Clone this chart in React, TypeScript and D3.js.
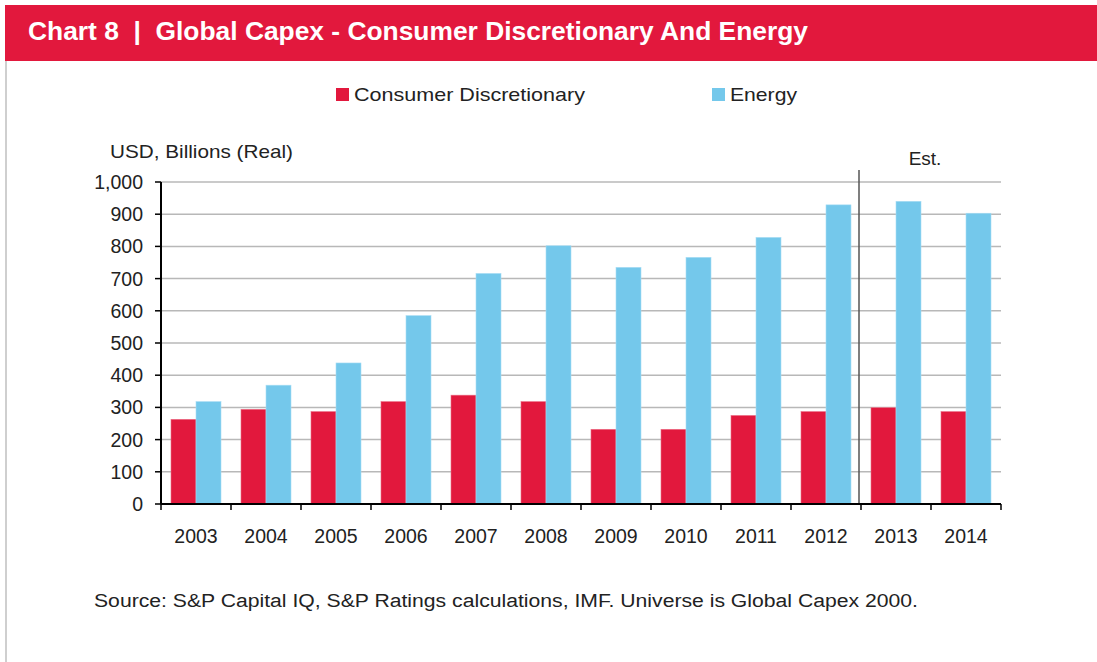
import React from 'react';
import * as d3 from 'd3';

const years = ['2003','2004','2005','2006','2007','2008','2009','2010','2011','2012','2013','2014'];
const consumerDiscretionary = [263, 294, 287, 318, 338, 318, 232, 232, 275, 287, 299, 287];
const energy = [318, 369, 438, 585, 716, 802, 735, 766, 828, 929, 940, 903];
const seriesNames = ['Consumer Discretionary', 'Energy'];
const yTicks = [0, 100, 200, 300, 400, 500, 600, 700, 800, 900, 1000];
const estimateStart = '2013';

const RED = '#E2183D';
const BLUE = '#74C8EB';
const FONT = '"Liberation Sans", Arial, sans-serif';

export default function App() {
  const W = 1097, H = 662;
  const left = 161, right = 1001, top = 182, bottom = 504;

  const x = d3.scaleBand<string>().domain(years).range([left, right]).paddingInner(0.2857).paddingOuter(0.14285);
  const xs = d3.scaleBand<string>().domain(seriesNames).range([0, x.bandwidth()]);
  const y = d3.scaleLinear().domain([0, 1000]).range([bottom, top]);
  const fmt = d3.format(',');
  const step = x.step();
  const colors = [RED, BLUE];
  const data = [consumerDiscretionary, energy];
  const estX = left + years.indexOf(estimateStart) * step;

  return (
    <svg width={W} height={H} style={{ position: 'absolute', left: 0, top: 0 }} fontFamily={FONT}>
      <rect x={0} y={0} width={W} height={H} fill="#fff" />
      {/* title bar */}
      <rect x={5} y={5} width={W - 5} height={56} fill={RED} />
      <line x1={6} y1={61} x2={6} y2={H} stroke="#cfcfcf" strokeWidth={2} />
      <text x={28} y={40} fill="#fff" fontSize={25} fontWeight="bold"
        fontFamily='"Liberation Sans Narrow", "Liberation Sans", Arial, sans-serif'
        textLength={780} lengthAdjust="spacingAndGlyphs" style={{ whiteSpace: 'pre' }}>
        {'Chart 8  |  Global Capex - Consumer Discretionary And Energy'}
      </text>

      {/* legend */}
      <rect x={336} y={88} width={13} height={13} fill={RED} />
      <text x={354} y={101} fontSize={19} fill="#222" textLength={231} lengthAdjust="spacingAndGlyphs">{seriesNames[0]}</text>
      <rect x={712} y={88} width={13} height={13} fill={BLUE} />
      <text x={730} y={101} fontSize={19} fill="#222" textLength={67} lengthAdjust="spacingAndGlyphs">{seriesNames[1]}</text>

      {/* axis title */}
      <text x={110} y={158} fontSize={19} fill="#222" textLength={183} lengthAdjust="spacingAndGlyphs">USD, Billions (Real)</text>

      {/* gridlines */}
      {yTicks.filter(t => t > 0).map(t => (
        <line key={t} x1={left} x2={right} y1={y(t)} y2={y(t)} stroke="#b8b8b8" strokeWidth={1.5} />
      ))}

      {/* bars */}
      {years.map((yr, i) => (
        <g key={yr}>
          {seriesNames.map((s, j) => (
            <rect key={s} x={(x(yr) as number) + (xs(s) as number)} y={y(data[j][i])}
              width={xs.bandwidth()} height={y(0) - y(data[j][i])} fill={colors[j]}
              stroke={j === 0 ? '#ec6f86' : '#a9ddf4'} strokeWidth={0.6} />
          ))}
        </g>
      ))}

      {/* estimate divider */}
      <line x1={estX - 2} x2={estX - 2} y1={170} y2={bottom} stroke="#555" strokeWidth={1.5} />
      <text x={925} y={165} fontSize={19} fill="#222" textAnchor="middle">Est.</text>

      {/* y axis */}
      <line x1={left} x2={left} y1={top} y2={bottom} stroke="#000" strokeWidth={2} />
      {yTicks.map(t => (
        <g key={t}>
          <line x1={left - 6} x2={left} y1={y(t)} y2={y(t)} stroke="#000" strokeWidth={1.5} />
          <text x={143} y={y(t) + 7} fontSize={19.5} fill="#222" textAnchor="end">{fmt(t)}</text>
        </g>
      ))}

      {/* x axis */}
      <line x1={left} x2={right} y1={bottom} y2={bottom} stroke="#000" strokeWidth={2} />
      {d3.range(years.length + 1).map(k => (
        <line key={k} x1={left + k * step} x2={left + k * step} y1={bottom} y2={bottom + 6} stroke="#000" strokeWidth={1.5} />
      ))}
      {years.map(yr => (
        <text key={yr} x={(x(yr) as number) + x.bandwidth() / 2} y={543} fontSize={19.5} fill="#222" textAnchor="middle">{yr}</text>
      ))}

      {/* source */}
      <text x={94} y={607} fontSize={18} fill="#222" textLength={824} lengthAdjust="spacingAndGlyphs">
        Source: S&amp;P Capital IQ, S&amp;P Ratings calculations, IMF. Universe is Global Capex 2000.
      </text>
    </svg>
  );
}
